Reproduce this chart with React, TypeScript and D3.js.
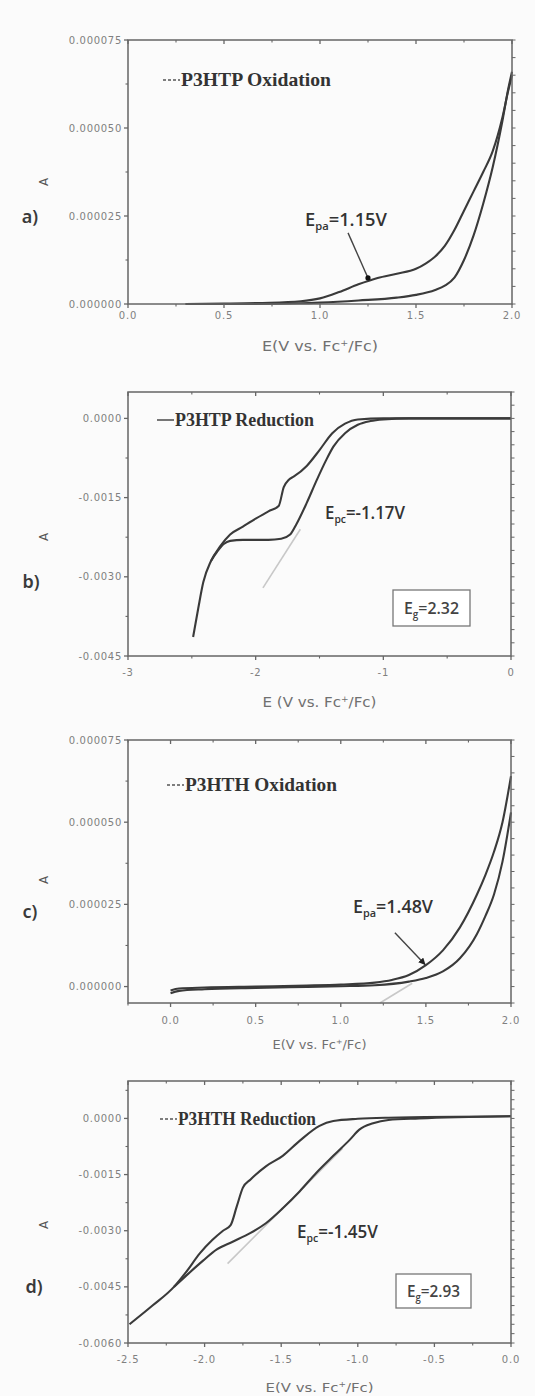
import React from "react";
import * as d3 from "d3";

const W = 535;
const H = 1396;

// ---------- Panel a: P3HTP oxidation (E / V, I / A) ----------
const aUpper: [number, number][] = [
  [0.3, 0], [0.5, 0.1e-6], [0.7, 0.3e-6], [0.9, 0.8e-6], [1.0, 1.6e-6], [1.1, 3.4e-6],
  [1.2, 5.6e-6], [1.3, 7.4e-6], [1.4, 8.6e-6], [1.5, 10.0e-6], [1.55, 11.5e-6], [1.6, 13.5e-6],
  [1.65, 16.5e-6], [1.7, 21.0e-6], [1.75, 26.5e-6], [1.8, 32.0e-6], [1.85, 37.5e-6], [1.9, 43.5e-6],
  [1.95, 53e-6], [1.98, 60.5e-6], [2.0, 65e-6],
];
const aLower: [number, number][] = [
  [0.3, 0], [0.6, 0], [0.9, 0.2e-6], [1.0, 0.4e-6], [1.2, 1.0e-6], [1.4, 1.8e-6], [1.5, 2.6e-6],
  [1.6, 4.0e-6], [1.65, 5.2e-6], [1.7, 7.5e-6], [1.75, 12.5e-6], [1.8, 19.5e-6], [1.85, 28.5e-6],
  [1.9, 39e-6], [1.95, 52e-6], [1.98, 61e-6], [2.0, 66e-6],
];
const aXTicks = [0, 0.5, 1.0, 1.5, 2.0];
const aXLabels = ["0.0", "0.5", "1.0", "1.5", "2.0"];
const aXMinor = [0.25, 0.75, 1.25, 1.75];
const aYTicks = [0, 25e-6, 50e-6, 75e-6];
const aYLabels = ["0.000000", "0.000025", "0.000050", "0.000075"];
const aYMinor = [12.5e-6, 37.5e-6, 62.5e-6];
const aArrow: [number, number][] = [[1.146, 20.2e-6], [1.25, 7.4e-6]];

// ---------- Panel b: P3HTP reduction ----------
const bUpper: [number, number][] = [
  [-2.49, -0.00414], [-2.45, -0.0036], [-2.41, -0.0031], [-2.35, -0.0027], [-2.28, -0.00243],
  [-2.2, -0.0022], [-2.1, -0.00205], [-2.0, -0.0019], [-1.9, -0.00176], [-1.82, -0.00166],
  [-1.78, -0.0013], [-1.74, -0.00116], [-1.7, -0.0011], [-1.6, -0.0009], [-1.5, -0.0006],
  [-1.4, -0.00028], [-1.3, -0.0001], [-1.2, -0.00002], [-1.0, 0], [0, 0],
];
const bLower: [number, number][] = [
  [-2.35, -0.0027], [-2.3, -0.00252], [-2.25, -0.00238], [-2.2, -0.00232], [-2.1, -0.0023],
  [-2.0, -0.0023], [-1.9, -0.0023], [-1.8, -0.00228], [-1.73, -0.0022], [-1.68, -0.002],
  [-1.6, -0.0016], [-1.52, -0.00116], [-1.45, -0.0008], [-1.39, -0.00053], [-1.3, -0.00028],
  [-1.2, -0.00012], [-1.1, -0.00005], [-1.0, -0.00002], [-0.8, 0], [0, 0],
];
const bXTicks = [-3, -2, -1, 0];
const bXLabels = ["-3", "-2", "-1", "0"];
const bXMinor = [-2.5, -1.5, -0.5];
const bYTicks = [-0.0045, -0.003, -0.0015, 0];
const bYLabels = ["-0.0045", "-0.0030", "-0.0015", "0.0000"];
const bYMinor = [-0.00375, -0.00225, -0.00075];
const bTangent: [number, number][] = [[-1.943, -0.00321], [-1.65, -0.0021]];

// ---------- Panel c: P3HTH oxidation ----------
const cUpper: [number, number][] = [
  [0, -1.2e-6], [0.05, -0.6e-6], [0.2, -0.3e-6], [0.5, 0], [0.8, 0.3e-6], [1.0, 0.6e-6],
  [1.2, 1.2e-6], [1.3, 2.0e-6], [1.4, 3.5e-6], [1.5, 6.5e-6], [1.6, 11e-6], [1.7, 18e-6],
  [1.8, 28e-6], [1.85, 34e-6], [1.9, 41e-6], [1.95, 50e-6], [2.0, 64e-6],
];
const cLower: [number, number][] = [
  [0, -2.0e-6], [0.05, -1.3e-6], [0.2, -0.8e-6], [0.5, -0.4e-6], [0.8, -0.1e-6], [1.0, 0.1e-6],
  [1.2, 0.4e-6], [1.4, 1.5e-6], [1.5, 2.6e-6], [1.6, 4.6e-6], [1.7, 8.6e-6], [1.8, 16e-6],
  [1.85, 21.5e-6], [1.9, 28e-6], [1.95, 38e-6], [2.0, 53e-6],
];
const cXTicks = [0, 0.5, 1.0, 1.5, 2.0];
const cXLabels = ["0.0", "0.5", "1.0", "1.5", "2.0"];
const cXMinor = [-0.25, 0.25, 0.75, 1.25, 1.75];
const cYTicks = [0, 25e-6, 50e-6, 75e-6];
const cYLabels = ["0.000000", "0.000025", "0.000050", "0.000075"];
const cYMinor = [12.5e-6, 37.5e-6, 62.5e-6];
const cArrow: [number, number][] = [[1.318, 16.4e-6], [1.495, 6.7e-6]];
const cTangent: [number, number][] = [[1.23, -5e-6], [1.42, 1e-6]];

// ---------- Panel d: P3HTH reduction ----------
const dUpper: [number, number][] = [
  [-2.49, -0.0055], [-2.34, -0.005], [-2.2, -0.0045], [-2.12, -0.0041], [-2.03, -0.0036],
  [-1.95, -0.00325], [-1.88, -0.003], [-1.83, -0.00285], [-1.79, -0.00235], [-1.75, -0.00185],
  [-1.7, -0.00163], [-1.6, -0.00128], [-1.49, -0.001], [-1.38, -0.0006], [-1.25, -0.0002],
  [-1.16, -0.00007], [-1.0, -0.00001], [-0.8, 0.00002], [0, 0.00006],
];
const dLower: [number, number][] = [
  [-2.2, -0.0045], [-2.12, -0.0042], [-2.01, -0.0038], [-1.92, -0.0035], [-1.82, -0.0033],
  [-1.7, -0.00306], [-1.6, -0.0028], [-1.49, -0.0024], [-1.38, -0.00195], [-1.27, -0.00145],
  [-1.16, -0.001], [-1.05, -0.00056], [-0.99, -0.0003], [-0.9, -0.00013], [-0.8, -0.00004],
  [-0.6, 0], [0, 0.00006],
];
const dXTicks = [-2.5, -2.0, -1.5, -1.0, -0.5, 0];
const dXLabels = ["-2.5", "-2.0", "-1.5", "-1.0", "-0.5", "0.0"];
const dXMinor = [-2.25, -1.75, -1.25, -0.75, -0.25];
const dYTicks = [-0.006, -0.0045, -0.003, -0.0015, 0];
const dYLabels = ["-0.0060", "-0.0045", "-0.0030", "-0.0015", "0.0000"];
const dYMinor = [-0.00525, -0.00375, -0.00225, -0.00075, 0.00075];
const dTangent: [number, number][] = [[-1.85, -0.00388], [-1.1, -0.0008]];

type Pt = [number, number];

interface PanelProps {
  box: { x0: number; x1: number; y0: number; y1: number };
  xDomain: [number, number];
  yDomain: [number, number];
  xTicks: number[];
  xLabels: string[];
  xMinor: number[];
  yTicks: number[];
  yLabels: string[];
  yMinor: number[];
  rightStep: number;
  series: Pt[][];
  letter: string;
  letterPos: [number, number];
  yLabelY: number;
  xTitle: string;
  xTitleY: number;
  xTitleSize: number;
  xTitleWidth: number;
  xLabelY: number;
  legend: string;
  legendPos: [number, number];
  legendDash: string;
  legendWidth: number;
  epLabel: { main: string; sub: string; rest: string; x: number; y: number; width: number };
  arrow?: Pt[];
  arrowDot?: boolean;
  tangent?: Pt[];
  egBox?: { text: string; value: string; x: number; y: number; w: number; h: number };
}

const AXIS = "#666";
const CURVE = "#3a3a3a";
const TICKTXT = "#808080";
const TICKFONT = "DejaVu Sans, Verdana, sans-serif";

function Panel(p: PanelProps) {
  const { box } = p;
  const x = d3.scaleLinear().domain(p.xDomain).range([box.x0, box.x1]);
  const y = d3.scaleLinear().domain(p.yDomain).range([box.y1, box.y0]);
  const line = d3
    .line<Pt>()
    .x((d) => x(d[0]))
    .y((d) => y(d[1]))
    .curve(d3.curveMonotoneX);
  const rightTicks = d3.range(p.yDomain[0], p.yDomain[1] + 1e-12, p.rightStep);

  return (
    <g>
      {p.tangent && (
        <path d={d3.line()(p.tangent.map((d) => [x(d[0]), y(d[1])]))!} stroke="#c8c8c8" strokeWidth={1.6} fill="none" />
      )}
      {p.series.map((s, i) => (
        <path key={i} d={line(s)!} stroke={CURVE} strokeWidth={2.1} fill="none" strokeLinejoin="round" />
      ))}
      <rect x={box.x0} y={box.y0} width={box.x1 - box.x0} height={box.y1 - box.y0} fill="none" stroke={AXIS} strokeWidth={1.5} />
      {p.xTicks.map((t, i) => (
        <g key={"xt" + i}>
          <line x1={x(t)} x2={x(t)} y1={box.y1} y2={box.y1 + 4} stroke={AXIS} strokeWidth={1.3} />
          <line x1={x(t)} x2={x(t)} y1={box.y0} y2={box.y0 + 4} stroke={AXIS} strokeWidth={1.3} />
          <text x={x(t)} y={p.xLabelY} textAnchor="middle" fontSize={10} letterSpacing={0.8} fontFamily={TICKFONT} fill={TICKTXT}>
            {p.xLabels[i]}
          </text>
        </g>
      ))}
      {p.xMinor.map((t, i) => (
        <g key={"xm" + i}>
          <line x1={x(t)} x2={x(t)} y1={box.y1} y2={box.y1 + 2.5} stroke={AXIS} strokeWidth={1.1} />
          <line x1={x(t)} x2={x(t)} y1={box.y0} y2={box.y0 + 2.5} stroke={AXIS} strokeWidth={1.1} />
        </g>
      ))}
      {p.yTicks.map((t, i) => (
        <g key={"yt" + i}>
          <line x1={box.x0 - 4} x2={box.x0} y1={y(t)} y2={y(t)} stroke={AXIS} strokeWidth={1.3} />
          <text x={box.x0 - 6} y={y(t) + 3.5} textAnchor="end" fontSize={10} letterSpacing={0.7} fontFamily={TICKFONT} fill={TICKTXT}>
            {p.yLabels[i]}
          </text>
        </g>
      ))}
      {p.yMinor.map((t, i) => (
        <line key={"ym" + i} x1={box.x0 - 2.5} x2={box.x0} y1={y(t)} y2={y(t)} stroke={AXIS} strokeWidth={1.1} />
      ))}
      {rightTicks.map((t, i) => (
        <line key={"rt" + i} x1={box.x1} x2={box.x1 + 3.5} y1={y(t)} y2={y(t)} stroke={AXIS} strokeWidth={1} />
      ))}
      <text
        x={(box.x0 + box.x1) / 2}
        y={p.xTitleY}
        textAnchor="middle"
        fontSize={p.xTitleSize}
        fontFamily={TICKFONT}
        fill="#707070"
        textLength={p.xTitleWidth}
        lengthAdjust="spacingAndGlyphs"
      >
        {p.xTitle}
        <tspan dy={-5} fontSize={p.xTitleSize * 0.6}>+</tspan>
        <tspan dy={5}>/Fc)</tspan>
      </text>
      <text
        transform={`translate(${box.x0 - 80},${p.yLabelY}) rotate(-90)`}
        textAnchor="middle"
        fontSize={12}
        fontFamily={TICKFONT}
        fill="#555"
      >
        A
      </text>
      <text x={p.letterPos[0]} y={p.letterPos[1]} textAnchor="middle" fontSize={18} fontFamily="Noto Sans, sans-serif" fontWeight={600} fill="#3a3a3a">
        {p.letter}
      </text>
      <line
        x1={box.x0 + p.legendPos[0]}
        x2={box.x0 + p.legendPos[0] + 17}
        y1={box.y0 + p.legendPos[1]}
        y2={box.y0 + p.legendPos[1]}
        stroke="#555"
        strokeWidth={1.6}
        strokeDasharray={p.legendDash}
      />
      <text
        x={box.x0 + p.legendPos[0] + 18}
        y={box.y0 + p.legendPos[1] + 6}
        fontSize={19}
        fontWeight="bold"
        fontFamily="Liberation Serif, serif"
        fill="#333"
        textLength={p.legendWidth}
        lengthAdjust="spacingAndGlyphs"
      >
        {p.legend}
      </text>
      <text
        x={box.x0 + p.epLabel.x}
        y={box.y0 + p.epLabel.y}
        fontSize={18}
        fontWeight={600}
        fontFamily="Open Sans, sans-serif"
        fill="#333"
        textLength={p.epLabel.width}
        lengthAdjust="spacingAndGlyphs"
      >
        {p.epLabel.main}
        <tspan fontSize={11} dy={4}>{p.epLabel.sub}</tspan>
        <tspan dy={-4}>{p.epLabel.rest}</tspan>
      </text>
      {p.arrow && (
        <g>
          <line
            x1={x(p.arrow[0][0])}
            y1={y(p.arrow[0][1])}
            x2={x(p.arrow[1][0])}
            y2={y(p.arrow[1][1])}
            stroke="#444"
            strokeWidth={1.4}
            markerEnd={p.arrowDot ? undefined : "url(#ah)"}
          />
          {p.arrowDot && <circle cx={x(p.arrow[1][0])} cy={y(p.arrow[1][1])} r={2.6} fill="#111" />}
        </g>
      )}
      {p.egBox && (
        <g>
          <rect x={box.x0 + p.egBox.x} y={box.y0 + p.egBox.y} width={p.egBox.w} height={p.egBox.h} fill="#fff" stroke="#777" strokeWidth={1.3} />
          <text
            x={box.x0 + p.egBox.x + p.egBox.w / 2}
            y={box.y0 + p.egBox.y + p.egBox.h / 2 + 5.5}
            textAnchor="middle"
            fontSize={16}
            fontWeight={600}
            fontFamily="Open Sans, sans-serif"
            fill="#444"
            textLength={p.egBox.w - 22}
            lengthAdjust="spacingAndGlyphs"
          >
            {p.egBox.text}
            <tspan fontSize={10} dy={4}>g</tspan>
            <tspan dy={-4}>{p.egBox.value}</tspan>
          </text>
        </g>
      )}
    </g>
  );
}

export default function App() {
  return (
    <svg width={W} height={H} style={{ position: "absolute", left: 0, top: 0, background: "#fbfbfb" }}>
      <defs>
        <marker id="ah" viewBox="0 0 10 10" refX="9" refY="5" markerWidth="5" markerHeight="5" orient="auto">
          <path d="M0,0 L10,5 L0,10 z" fill="#222" />
        </marker>
      </defs>
      <rect x={0} y={0} width={W} height={H} fill="#fbfbfb" />
      <Panel
        box={{ x0: 128, x1: 512, y0: 40, y1: 304 }}
        xDomain={[0, 2]}
        yDomain={[0, 75e-6]}
        xTicks={aXTicks}
        xLabels={aXLabels}
        xMinor={aXMinor}
        yTicks={aYTicks}
        yLabels={aYLabels}
        yMinor={aYMinor}
        rightStep={5e-6}
        series={[aUpper, aLower]}
        letter="a)"
        letterPos={[30, 223]}
        yLabelY={182}
        xTitle="E(V vs. Fc"
        xTitleY={351}
        xTitleSize={13.5}
        xTitleWidth={116}
        xLabelY={319}
        legend="P3HTP Oxidation"
        legendPos={[35, 40]}
        legendDash="3,2"
        legendWidth={150}
        epLabel={{ main: "E", sub: "pa", rest: "=1.15V", x: 177, y: 186, width: 82 }}
        arrow={aArrow}
        arrowDot
      />
      <Panel
        box={{ x0: 128, x1: 511, y0: 392, y1: 656 }}
        xDomain={[-3, 0]}
        yDomain={[-0.0045, 0.0005]}
        xTicks={bXTicks}
        xLabels={bXLabels}
        xMinor={bXMinor}
        yTicks={bYTicks}
        yLabels={bYLabels}
        yMinor={bYMinor}
        rightStep={0.00025}
        series={[bUpper, bLower]}
        letter="b)"
        letterPos={[31, 588]}
        yLabelY={537}
        xTitle="E (V vs. Fc"
        xTitleY={707}
        xTitleSize={13.5}
        xTitleWidth={114}
        xLabelY={676}
        legend="P3HTP Reduction"
        legendPos={[29, 28]}
        legendDash=""
        legendWidth={139}
        epLabel={{ main: "E", sub: "pc", rest: "=-1.17V", x: 197, y: 127, width: 80 }}
        tangent={bTangent}
        egBox={{ text: "E", value: "=2.32", x: 265, y: 198, w: 77, h: 36 }}
      />
      <Panel
        box={{ x0: 128, x1: 511, y0: 740, y1: 1003 }}
        xDomain={[-0.25, 2]}
        yDomain={[-5e-6, 75e-6]}
        xTicks={cXTicks}
        xLabels={cXLabels}
        xMinor={cXMinor}
        yTicks={cYTicks}
        yLabels={cYLabels}
        yMinor={cYMinor}
        rightStep={5e-6}
        series={[cUpper, cLower]}
        letter="c)"
        letterPos={[30, 918]}
        yLabelY={880}
        xTitle="E(V vs. Fc"
        xTitleY={1049}
        xTitleSize={11.5}
        xTitleWidth={94}
        xLabelY={1024}
        legend="P3HTH Oxidation"
        legendPos={[39, 45]}
        legendDash="3,2"
        legendWidth={152}
        epLabel={{ main: "E", sub: "pa", rest: "=1.48V", x: 225, y: 173, width: 80 }}
        arrow={cArrow}
        tangent={cTangent}
      />
      <Panel
        box={{ x0: 128, x1: 511, y0: 1081, y1: 1343 }}
        xDomain={[-2.5, 0]}
        yDomain={[-0.006, 0.001]}
        xTicks={dXTicks}
        xLabels={dXLabels}
        xMinor={dXMinor}
        yTicks={dYTicks}
        yLabels={dYLabels}
        yMinor={dYMinor}
        rightStep={0.00025}
        series={[dUpper, dLower]}
        letter="d)"
        letterPos={[34, 1293]}
        yLabelY={1225}
        xTitle="E(V vs. Fc"
        xTitleY={1392}
        xTitleSize={13}
        xTitleWidth={108}
        xLabelY={1363}
        legend="P3HTH Reduction"
        legendPos={[32, 38]}
        legendDash="3,2"
        legendWidth={138}
        epLabel={{ main: "E", sub: "pc", rest: "=-1.45V", x: 169, y: 157, width: 81 }}
        tangent={dTangent}
        egBox={{ text: "E", value: "=2.93", x: 268, y: 193, w: 75, h: 34 }}
      />
    </svg>
  );
}
